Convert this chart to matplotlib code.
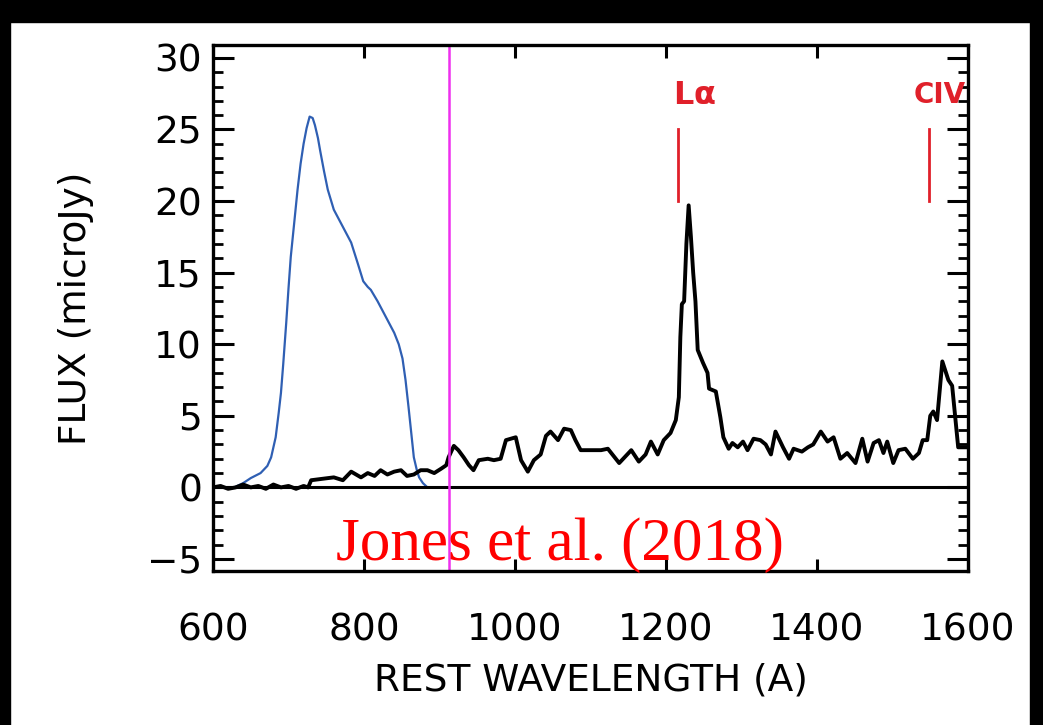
import numpy as np
import matplotlib
matplotlib.use('Agg')
import matplotlib.pyplot as plt
from matplotlib.patches import Rectangle
from matplotlib.ticker import MultipleLocator

# spectre observé (noir)
wave = [600, 610, 620, 630, 640, 650, 660, 670, 680, 690, 700, 710, 720, 726,
        730, 745, 760, 772, 783, 796, 805, 814, 822, 831, 840, 849, 857, 866,
        875, 884, 893, 902, 909, 912, 919, 925, 932, 939, 945, 952, 964, 972,
        981, 988, 1001, 1008, 1017, 1025, 1034, 1041, 1047, 1057, 1065, 1074,
        1080, 1087, 1100, 1114, 1123, 1138, 1154, 1164, 1173, 1180, 1189, 1197,
        1206, 1213, 1217, 1219, 1221, 1224, 1227, 1230, 1233, 1236, 1239, 1242,
        1249, 1255, 1257, 1266, 1272, 1276, 1283, 1288, 1295, 1302, 1308, 1316,
        1325, 1332, 1339, 1345, 1355, 1363, 1369, 1380, 1388, 1395, 1405, 1414,
        1422, 1431, 1440, 1451, 1460, 1467, 1475, 1482, 1488, 1493, 1501, 1508,
        1517, 1527, 1535, 1540, 1546, 1550, 1554, 1559, 1566, 1574, 1579, 1587,
        1597, 1600]
flux = [0.0, 0.1, -0.1, 0.0, 0.2, 0.0, 0.1, -0.1, 0.2, 0.0, 0.1, -0.1, 0.1, 0.0,
        0.5, 0.6, 0.7, 0.5, 1.1, 0.7, 1.0, 0.8, 1.2, 0.9, 1.1, 1.2, 0.8, 0.9,
        1.2, 1.2, 1.0, 1.3, 1.55, 2.1, 2.9, 2.6, 2.1, 1.55, 1.2, 1.9, 2.0, 1.9,
        2.0, 3.3, 3.5, 1.9, 1.1, 1.9, 2.3, 3.6, 3.9, 3.3, 4.1, 4.0,
        3.3, 2.6, 2.6, 2.6, 2.7, 1.7, 2.6, 1.8, 2.3, 3.2, 2.3, 3.3,
        3.8, 4.7, 6.3, 10.5, 12.8, 13.0, 17.0, 19.7, 17.5, 15.0, 13.0, 9.6,
        8.7, 8.0, 6.9, 6.7, 4.9, 3.5, 2.7, 3.1, 2.8, 3.2, 2.6, 3.4,
        3.3, 3.0, 2.3, 3.9, 2.8, 2.0, 2.7, 2.5, 2.8, 3.0, 3.9, 3.2,
        3.5, 2.0, 2.4, 1.7, 3.4, 1.8, 3.1, 3.3, 2.4, 3.2, 1.7, 2.6,
        2.7, 2.0, 2.4, 3.3, 3.3, 5.0, 5.3, 4.7, 8.8, 7.5, 7.1, 2.8,
        2.8, 2.8]

# courbe bleue
wave_b = [628, 640, 650, 663, 672, 677, 683, 687, 690, 693, 697, 700, 703, 708,
          712, 716, 720, 724, 728, 732, 735, 739, 742, 747, 752, 760, 772, 783,
          792, 799, 805, 809, 818, 826, 833, 840, 846, 851, 855, 859, 863, 866,
          870, 873, 878, 884, 902]
flux_b = [0.0, 0.3, 0.65, 1.0, 1.5, 2.1, 3.5, 5.2, 6.6, 8.6, 11.5, 13.9, 16.1, 18.7,
          20.8, 22.6, 24.0, 25.1, 25.9, 25.8, 25.3, 24.4, 23.5, 22.1, 20.8, 19.4, 18.2, 17.1,
          15.6, 14.4, 14.0, 13.8, 13.0, 12.2, 11.5, 10.8, 10.0, 9.0, 7.5, 5.6, 3.6, 2.1,
          1.2, 0.7, 0.3, 0.0, 0.0]

raies = [1216, 1549]
noms = [r"L$\mathbf{\alpha}$", "CIV"]
pos_noms = [1238, 1562]
tailles = [23, 20]

fig = plt.figure(figsize=(10.43, 7.25), dpi=100)
ax = fig.add_axes([213/1043, 1-571/725, (968-213)/1043, (571-45)/725])

ax.plot(wave_b, flux_b, '-', color='#2f5fb3', lw=1.6)
ax.plot(wave, flux, 'k-', lw=2.8)
ax.axhline(0, color='k', lw=2.2)
ax.axvline(912, color='#ee30ee', lw=1.8)

for r, n, p, t in zip(raies, noms, pos_noms, tailles):
    ax.plot([r, r], [20, 25], '-', color='#e0202a', lw=2)
    ax.text(p, 27.4, n, color='#e0202a', fontsize=t, fontweight='bold',
            ha='center', va='center')

ax.text(1060, -5.05, "Jones et al. (2018)", color='red', fontsize=44,
        family='Liberation Serif', ha='center', va='baseline')

ax.set_xlim(600, 1600)
ax.set_ylim(-5.84, 30.9)
ax.set_xticks([600, 800, 1000, 1200, 1400, 1600])
ax.set_yticks([-5, 0, 5, 10, 15, 20, 25, 30])
ax.set_yticklabels(['\u22125', '0', '5', '10', '15', '20', '25', '30'])
ax.yaxis.set_minor_locator(MultipleLocator(1))
ax.tick_params(which='both', direction='in', top=True, right=True, width=2.2,
               labelsize=27)
ax.tick_params(axis='x', which='major', length=9, pad=30)
ax.tick_params(axis='y', which='major', length=15, pad=8)
ax.tick_params(axis='y', which='minor', length=7, width=2)
for s in ax.spines.values():
    s.set_linewidth(2.4)

ax.set_xlabel("REST WAVELENGTH (A)", fontsize=27, labelpad=10)
ax.set_ylabel("FLUX (microJy)", fontsize=27, labelpad=38)

# cadre noir de la capture
for (x0, y0, w, h) in [(0, 1-22/725, 1, 22/725), (0, 0, 10/1043, 1), (1-13/1043, 0, 13/1043, 1)]:
    fig.patches.append(Rectangle((x0, y0), w, h, transform=fig.transFigure,
                                 color='black', zorder=10))

fig.savefig("out.png", dpi=100)
